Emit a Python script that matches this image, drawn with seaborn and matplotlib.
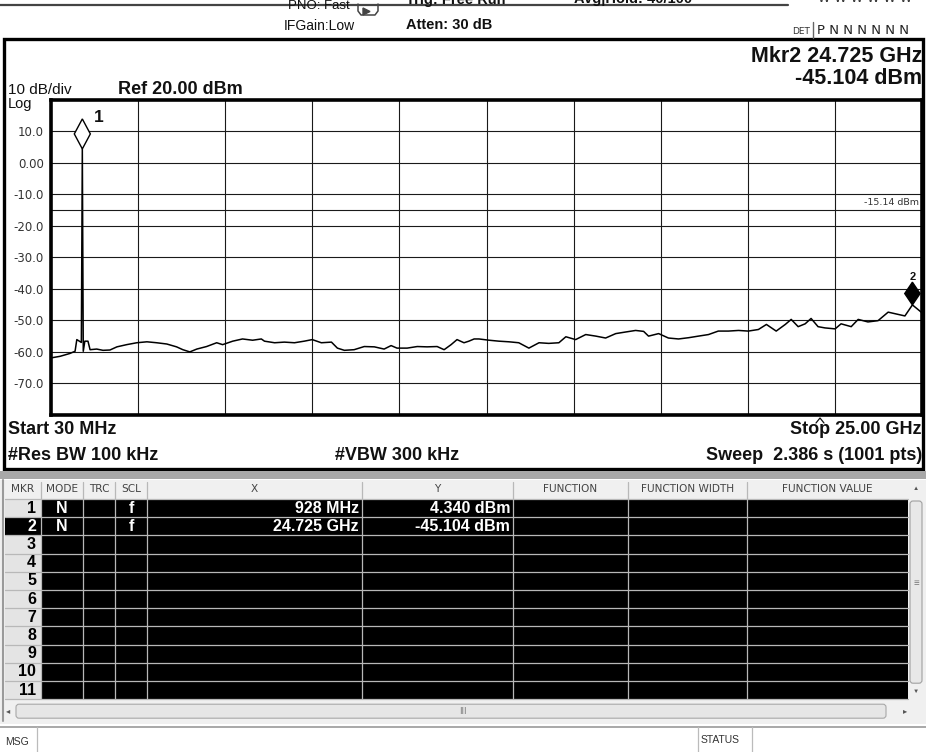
import numpy as np
import pandas as pd
import matplotlib
matplotlib.use('Agg')
import matplotlib.pyplot as plt
from matplotlib.patches import Rectangle, Polygon, FancyBboxPatch
import seaborn as sns

sns.set_style('white')
plt.rcParams['font.family'] = ['Liberation Sans', 'DejaVu Sans']

# ---- trace (GHz, dBm) ----
freq_ghz = [0.03, 0.29, 0.57, 0.72, 0.77, 0.90, 0.928, 0.955, 1.00, 1.09, 1.15, 1.34, 1.52,
            1.72, 1.92, 2.20, 2.49, 2.78, 3.06, 3.35, 3.63, 3.81, 4.01, 4.21, 4.49, 4.78,
            4.95, 5.24, 5.52, 5.81, 6.06, 6.15, 6.44, 6.72, 7.01, 7.29, 7.52, 7.78, 8.07,
            8.24, 8.44, 8.72, 9.01, 9.30, 9.58, 9.78, 9.95, 10.24, 10.53, 10.81, 11.10,
            11.30, 11.50, 11.67, 11.87, 12.01, 12.16, 12.30, 12.59, 12.87, 13.16, 13.44,
            13.73, 14.02, 14.30, 14.59, 14.79, 15.07, 15.36, 15.65, 15.93, 16.22, 16.50,
            16.79, 17.02, 17.16, 17.45, 17.73, 18.02, 18.31, 18.59, 18.88, 19.16, 19.45,
            19.74, 20.02, 20.31, 20.54, 20.82, 21.08, 21.25, 21.45, 21.65, 21.82, 22.02,
            22.22, 22.51, 22.68, 22.97, 23.17, 23.45, 23.74, 24.03, 24.31, 24.51, 24.725,
            25.00]
level_dbm = [-61.9, -61.4, -60.5, -59.8, -56.1, -57.0, 4.34, -59.8, -56.6, -56.6, -59.3, -59.1,
             -59.5, -59.4, -58.4, -57.7, -57.1, -56.8, -57.1, -57.5, -58.4, -59.3, -60.0,
             -59.1, -58.3, -57.1, -57.7, -56.6, -55.9, -56.3, -55.9, -56.6, -57.1, -56.9,
             -57.1, -56.6, -56.1, -57.1, -56.9, -58.8, -59.5, -59.3, -58.3, -58.4, -59.1,
             -58.0, -58.8, -58.8, -58.3, -58.4, -58.3, -59.3, -57.7, -56.1, -57.1, -56.6,
             -55.9, -55.9, -56.3, -56.6, -56.8, -57.1, -58.8, -57.1, -57.3, -57.1, -55.2,
             -56.1, -54.5, -55.0, -55.6, -54.2, -53.7, -53.2, -53.5, -55.0, -54.2, -55.6,
             -55.9, -55.5, -55.0, -54.5, -53.4, -53.4, -53.2, -53.4, -52.9, -51.3, -53.4,
             -51.3, -49.7, -52.0, -51.1, -49.4, -52.0, -52.4, -52.7, -51.1, -52.0, -49.7,
             -50.5, -50.1, -47.4, -48.1, -48.6, -45.104, -47.6]

marker_ids = ['1', '2']
marker_freq_ghz = [0.928, 24.725]
marker_level_dbm = [4.340, -45.104]
display_line_dbm = -15.14

start_ghz, stop_ghz = 0.03, 25.0
ref_dbm, db_per_div = 20.0, 10.0
ytick_vals = [10, 0, -10, -20, -30, -40, -50, -60, -70]
ytick_labels = ['10.0', '0.00', '-10.0', '-20.0', '-30.0', '-40.0', '-50.0', '-60.0', '-70.0']

# marker table
table_headers = ['MKR', 'MODE', 'TRC', 'SCL', 'X', 'Y', 'FUNCTION', 'FUNCTION WIDTH', 'FUNCTION VALUE']
table_rows = list(range(1, 12))
row_mode = ['N', 'N']
row_scl = ['f', 'f']
row_x = ['928 MHz', '24.725 GHz']
row_y = ['4.340 dBm', '-45.104 dBm']

W, H = 926, 752
fig = plt.figure(figsize=(W / 100, H / 100), dpi=100)

# background canvas in pixel coordinates
bg = fig.add_axes([0, 0, 1, 1])
bg.set_xlim(0, W)
bg.set_ylim(H, 0)
bg.axis('off')

NARROW = ['Liberation Sans Narrow', 'Liberation Sans', 'DejaVu Sans']
dark = '#111111'

# ---- header strip ----
bg.plot([0, 788], [5, 5], color='#444444', lw=1.6)
bg.text(288, 6, 'PNO: Fast', fontsize=9.5, family=NARROW, va='center', color=dark)
bg.text(284, 26, 'IFGain:Low', fontsize=10, family=NARROW, va='center', color=dark)
bg.plot([358, 358, 361, 375, 378, 378], [4, 11, 15, 15, 11, 4], color='#444444', lw=1.1)
bg.add_patch(Polygon([[363, 8], [370, 11.5], [363, 15]], closed=True, color='#444444'))
bg.text(406, 0, 'Trig: Free Run', fontsize=10.5, family=NARROW, fontweight='bold', va='center', color=dark)
bg.text(406, 25, 'Atten: 30 dB', fontsize=10.5, family=NARROW, fontweight='bold', va='center', color=dark)
bg.text(574, -1, 'Avg|Hold: 40/100', fontsize=10.5, family=NARROW, fontweight='bold', va='center', color=dark)
bg.text(788, -3, 'TYPE', fontsize=6.5, family='DejaVu Sans', va='center', color='#333333')
bg.text(818, -2, 'W W W W W W', fontsize=9, family='DejaVu Sans', va='center', color='#333333')
bg.text(792, 31, 'DET', fontsize=6.5, family='DejaVu Sans', va='center', color='#333333')
bg.plot([813, 813], [22, 38], color='#666666', lw=1)
bg.text(817, 30, 'P N N N N N N', fontsize=9.5, family='DejaVu Sans', va='center', color='#222222')

# ---- main instrument box ----
bg.add_patch(Rectangle((4, 39), 919, 430, fill=False, ec='black', lw=2.4))
bg.add_patch(Rectangle((0, 471), W, 8, color='#a8a8a8', lw=0))

bg.text(922, 56, 'Mkr2 24.725 GHz', fontsize=15.5, fontweight='bold', ha='right', va='center', color=dark)
bg.text(922, 78, '-45.104 dBm', fontsize=15.5, fontweight='bold', ha='right', va='center', color=dark)
bg.text(8, 90, '10 dB/div', fontsize=11, ha='left', va='center', color=dark)
bg.text(118, 90, 'Ref 20.00 dBm', fontsize=13, fontweight='bold', ha='left', va='center', color=dark)
bg.text(8, 104, 'Log', fontsize=10.5, ha='left', va='center', color=dark)

bg.text(8, 429, 'Start 30 MHz', fontsize=13, fontweight='bold', ha='left', va='center', color=dark)
bg.text(922, 429, 'Stop 25.00 GHz', fontsize=13, fontweight='bold', ha='right', va='center', color=dark)
bg.plot([816, 820, 824], [423, 418, 423], color=dark, lw=0.9)
bg.text(8, 455, '#Res BW 100 kHz', fontsize=13, fontweight='bold', ha='left', va='center', color=dark)
bg.text(335, 455, '#VBW 300 kHz', fontsize=13, fontweight='bold', ha='left', va='center', color=dark)
bg.text(922, 455, 'Sweep  2.386 s (1001 pts)', fontsize=13, fontweight='bold', ha='right', va='center', color=dark)

# ---- spectrum graticule ----
left, right, top, bottom = 51, 922, 99.5, 415
ax = fig.add_axes([left / W, 1 - bottom / H, (right - left) / W, (bottom - top) / H])
ax.set_zorder(2)
trace = pd.DataFrame({'freq_ghz': freq_ghz, 'level_dbm': level_dbm})
sns.lineplot(data=trace, x='freq_ghz', y='level_dbm', ax=ax, color='black', lw=1.1,
             estimator=None, sort=True)
ax.set_xlim(start_ghz, stop_ghz)
ax.set_ylim(ref_dbm - 10 * db_per_div, ref_dbm)
ax.set_xticks(np.linspace(start_ghz, stop_ghz, 11))
ax.set_xticklabels([])
ax.set_yticks(ytick_vals)
ax.set_yticklabels(ytick_labels, family='DejaVu Sans', fontsize=8.5, color='#333333')
ax.tick_params(length=0, pad=5)
ax.grid(True, color='#1a1a1a', lw=0.8)
ax.set_xlabel('')
ax.set_ylabel('')
for sp in ax.spines.values():
    sp.set_linewidth(2.6)
    sp.set_color('black')

ax.axhline(display_line_dbm, color='#1a1a1a', lw=0.8)
ax.text(0.997, display_line_dbm + 1.0, '%.2f dBm' % display_line_dbm, transform=ax.get_yaxis_transform(),
        ha='right', va='bottom', fontsize=6.8, family='DejaVu Sans', color='#333333')

# markers: diamond sits on top of the marker point
for mid, mf, ml in zip(marker_ids, marker_freq_ghz, marker_level_dbm):
    filled = mid != '1'
    h = 3.6 if filled else 4.75
    w = 0.22 if filled else 0.23
    diamond = Polygon([[mf, ml], [mf + w, ml + h], [mf, ml + 2 * h], [mf - w, ml + h]], closed=True,
                      fc='black' if filled else 'white', ec='black', lw=1.0, zorder=5, clip_on=False)
    ax.add_patch(diamond)
    if not filled:
        ax.text(mf + 0.33, ml + 2 * h + 0.3, mid, fontsize=12.5, fontweight='bold', ha='left', va='center',
                color=dark)
    else:
        ax.text(mf, ml + 2 * h + 1.8, mid, fontsize=8, ha='center', va='center', color=dark,
                fontweight='bold')

# ---- marker table ----
col_edges = [5, 41, 83, 115, 147, 362, 513, 628, 747, 908]
head_top, head_bot = 480, 499
row_h = 18.2
rows_bot = head_bot + row_h * len(table_rows)

bg.add_patch(Rectangle((0, head_top), W, rows_bot - head_top + 25, color='#f0f0f0', lw=0))
bg.add_patch(Rectangle((col_edges[1], head_bot), col_edges[-1] - col_edges[1], rows_bot - head_bot,
                       color='black', lw=0))
bg.add_patch(Rectangle((col_edges[0], head_bot), col_edges[1] - col_edges[0], rows_bot - head_bot,
                       color='#e4e4e4', lw=0))
bg.add_patch(Rectangle((col_edges[0], head_bot + row_h), col_edges[1] - col_edges[0], row_h,
                       color='black', lw=0))
for xe in col_edges[1:-1]:
    bg.plot([xe, xe], [head_top + 2, rows_bot], color='#b8b8b8', lw=0.9)
for i in range(len(table_rows) + 1):
    yy = head_bot + i * row_h
    bg.plot([col_edges[0], col_edges[-1]], [yy, yy], color='#b8b8b8', lw=0.9)
bg.plot([3, 3], [head_top, rows_bot + 22], color='#9a9a9a', lw=1.5)

for j, lab in enumerate(table_headers):
    cx = (col_edges[j] + col_edges[j + 1]) / 2
    bg.text(cx, (head_top + head_bot) / 2, lab, fontsize=7.6, family='DejaVu Sans', ha='center',
            va='center', color='#444444')

for i, r in enumerate(table_rows):
    yc = head_bot + (i + 0.5) * row_h
    bg.text(col_edges[1] - 5, yc, str(r), fontsize=11.5, fontweight='bold', ha='right', va='center',
            color='white' if r == 2 else 'black')
for i in range(len(row_mode)):
    yc = head_bot + (i + 0.5) * row_h
    bg.text((col_edges[1] + col_edges[2]) / 2, yc, row_mode[i], fontsize=11.5, fontweight='bold',
            ha='center', va='center', color='white')
    bg.text((col_edges[3] + col_edges[4]) / 2, yc, row_scl[i], fontsize=11.5, fontweight='bold',
            ha='center', va='center', color='white')
    bg.text(col_edges[5] - 3, yc, row_x[i], fontsize=11.5, fontweight='bold', ha='right', va='center',
            color='white')
    bg.text(col_edges[6] - 3, yc, row_y[i], fontsize=11.5, fontweight='bold', ha='right', va='center',
            color='white')

# vertical scroll bar
bg.add_patch(FancyBboxPatch((910, head_bot + 2), 12, rows_bot - head_bot - 18,
                            boxstyle='round,pad=0,rounding_size=3', fc='#e8e8e8', ec='#a0a0a0', lw=0.8))
bg.text(916, 488, '\u25b2', fontsize=4.5, ha='center', va='center', color='#555555')
bg.text(916, rows_bot - 8, '\u25bc', fontsize=4.5, ha='center', va='center', color='#555555')
bg.text(916, 583, '\u2261', fontsize=7, ha='center', va='center', color='#777777')

# horizontal scroll bar
hs_top = rows_bot + 3
bg.add_patch(FancyBboxPatch((16, hs_top + 2), 870, 14, boxstyle='round,pad=0,rounding_size=3',
                            fc='#e6e6e6', ec='#a8a8a8', lw=0.8))
bg.text(8, hs_top + 9, '\u25c2', fontsize=6, ha='center', va='center', color='#555555')
bg.text(905, hs_top + 9, '\u25b8', fontsize=6, ha='center', va='center', color='#555555')
bg.text(463, hs_top + 9, 'III', fontsize=6, family='DejaVu Sans', ha='center', va='center', color='#777777')

# status line
bg.add_patch(Rectangle((0, 727), W, 25, color='white', lw=0))
bg.plot([0, W], [727, 727], color='#9a9a9a', lw=1.2)
bg.plot([37, 37], [727, 752], color='#bbbbbb', lw=0.9)
bg.plot([698, 698], [727, 752], color='#bbbbbb', lw=0.9)
bg.plot([752, 752], [727, 752], color='#bbbbbb', lw=0.9)
bg.text(5, 742, 'MSG', fontsize=7.5, family=NARROW, ha='left', va='center', color='#333333')
bg.text(701, 740, 'STATUS', fontsize=7.5, family=NARROW, ha='left', va='center', color='#333333')

fig.savefig('out.png', dpi=100)
